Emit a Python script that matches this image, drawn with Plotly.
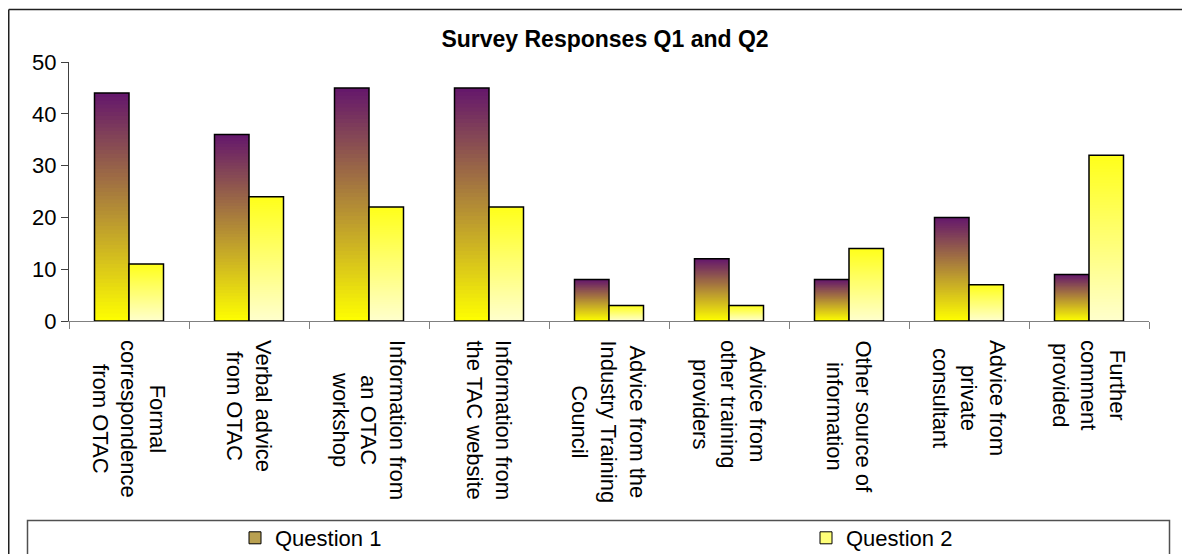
import plotly.graph_objects as go

# ---------------- data ----------------
categories = [
    "Formal<br>correspondence<br>from OTAC",
    "Verbal advice<br>from OTAC",
    "Information from<br>an OTAC<br>workshop",
    "Information from<br>the TAC website",
    "Advice from the<br>Industry Training<br>Council",
    "Advice from<br>other training<br>providers",
    "Other source of<br>information",
    "Advice from<br>private<br>consultant",
    "Further<br>comment<br>provided",
]
question1 = [44, 36, 45, 45, 8, 12, 8, 20, 9]
question2 = [11, 24, 22, 22, 3, 3, 14, 7, 32]
series_names = ["Question 1", "Question 2"]
y_ticks = [0, 10, 20, 30, 40, 50]
title_text = "Survey Responses Q1 and Q2"

# ---------------- layout helpers ----------------
# the page body adds an 8px offset, so the figure is 8px smaller
OFF = 8
W, H = 1190 - OFF, 554 - OFF
L, R, T, B = 61, 41, 54, 233
PW, PH = W - L - R, H - T - B
FONT = "Liberation Sans, Arial, sans-serif"
FS = 22


def px_x(p):  # p: pixel in the 1190x554 screenshot
    return (p - OFF - L) / PW


def px_y(p):
    return (H - B - (p - OFF)) / PH


def blend(c0, c1, t):
    r, g, b = (round(c0[i] + (c1[i] - c0[i]) * t) for i in range(3))
    return f"rgb({r},{g},{b})"


N_STEPS = 60
BAR_W = 0.2875
styles = [
    # values, offset, bottom colour, top colour, legend colour, legend id
    (question1, -BAR_W, (255, 255, 0), (100, 22, 108), "rgb(185,160,80)", "legend"),
    (question2, 0.0, (255, 255, 204), (255, 255, 26), "rgb(255,255,120)", "legend2"),
]

fig = go.Figure()
for (vals, off, c_bot, c_top, c_leg, leg), name in zip(styles, series_names):
    # vertical gradient: overlay progressively shorter bars of each value
    for k in range(N_STEPS):
        frac = 1 - k / N_STEPS
        t = 1 - (k + 0.5) / N_STEPS
        fig.add_trace(go.Bar(
            x=categories, y=[v * frac for v in vals],
            offset=off, width=BAR_W,
            marker=dict(color=blend(c_bot, c_top, t), line=dict(width=0)),
            showlegend=False, hoverinfo="skip",
        ))
    # outline of the real bars
    fig.add_trace(go.Bar(
        x=categories, y=vals, offset=off, width=BAR_W, name=name,
        marker=dict(color="rgba(0,0,0,0)", line=dict(color="black", width=1.5)),
        showlegend=False,
    ))
    # legend entry
    fig.add_trace(go.Bar(
        x=[None], y=[None], name=name, legend=leg,
        marker=dict(color=c_leg, line=dict(color="black", width=1)),
    ))

# category labels: rotated, lines centred, hanging below the axis
annotations = [
    dict(text=c, x=c, xref="x", y=px_y(338), yref="paper",
         xanchor="center", yanchor="top", textangle=90, align="center",
         showarrow=False, font=dict(family=FONT, size=FS, color="black"))
    for c in categories
]

line_kw = dict(type="line", xref="paper", yref="paper")
fig.update_layout(
    width=W, height=H,
    margin=dict(l=L, r=R, t=T, b=B, autoexpand=False),
    paper_bgcolor="white", plot_bgcolor="white",
    barmode="overlay",
    font=dict(family=FONT, size=FS, color="black"),
    title=dict(
        text=title_text, x=(605 - OFF) / W, xanchor="center",
        y=1 - (39 - OFF) / H, yanchor="middle",
        font=dict(family=FONT, size=23, color="black", weight="bold"),
    ),
    xaxis=dict(
        type="category", tickson="boundaries", showticklabels=False,
        ticks="outside", ticklen=7, tickcolor="#808080",
        showline=True, linecolor="#808080", linewidth=1,
        showgrid=False, range=[-0.5, len(categories) - 0.5],
    ),
    yaxis=dict(
        range=[0, 50], tickvals=y_ticks, ticks="outside", ticklen=7,
        tickcolor="#404040", showline=True, linecolor="#404040", linewidth=1,
        showgrid=False, zeroline=False,
        tickfont=dict(family=FONT, size=FS, color="black"),
    ),
    legend=dict(
        x=px_x(235), y=px_y(538), xanchor="left", yanchor="middle",
        bgcolor="rgba(0,0,0,0)", font=dict(family=FONT, size=FS),
    ),
    legend2=dict(
        x=px_x(806), y=px_y(538), xanchor="left", yanchor="middle",
        bgcolor="rgba(0,0,0,0)", font=dict(family=FONT, size=FS),
    ),
    annotations=annotations,
    shapes=[
        dict(**line_kw, x0=px_x(8.75), x1=px_x(8.75), y0=px_y(9.5), y1=px_y(620),
             line=dict(color="#202020", width=1.5)),
        dict(**line_kw, x0=px_x(8.75), x1=px_x(1260), y0=px_y(9.5), y1=px_y(9.5),
             line=dict(color="#202020", width=1.5)),
        dict(type="rect", xref="paper", yref="paper",
             x0=px_x(27.5), x1=px_x(1169.5), y0=px_y(520.5), y1=px_y(620),
             line=dict(color="#505050", width=1.5), fillcolor="rgba(0,0,0,0)"),
    ],
)

fig.write_html("out.html")
